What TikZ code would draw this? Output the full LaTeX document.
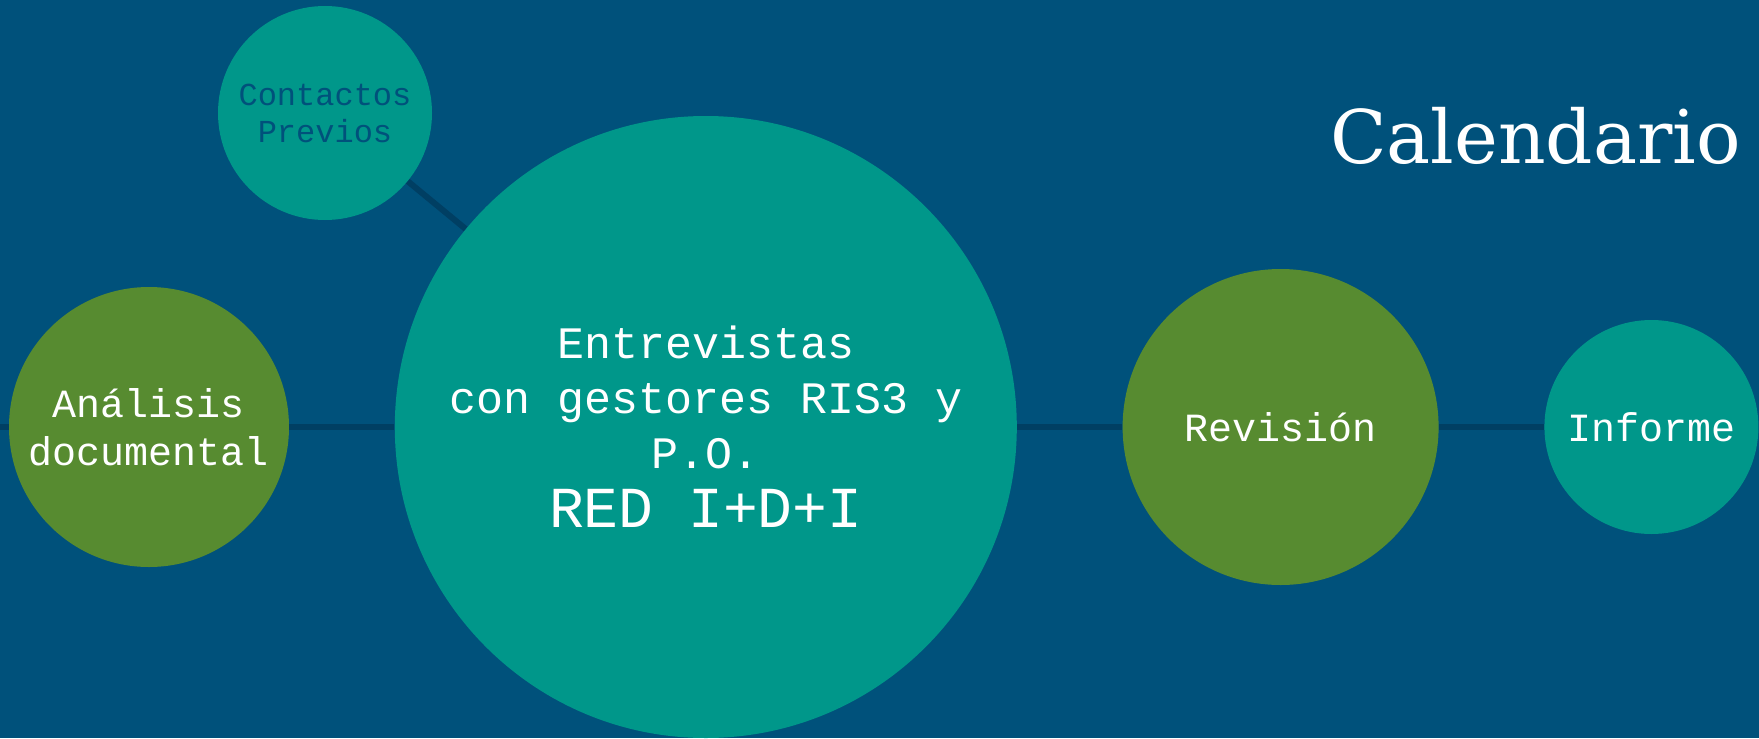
\documentclass[tikz,border=0pt]{standalone}
\usepackage{fontspec}
\usepackage{tikz}
\usetikzlibrary{positioning}
\newfontfamily\monofont{Liberation Mono}
\newfontfamily\slabfont{DejaVu Serif}
\definecolor{calblue}{HTML}{00517B}
\definecolor{calteal}{HTML}{00978A}
\definecolor{calgreen}{HTML}{578B30}
\definecolor{calline}{HTML}{003F63}

\tikzset{
  phase/.style={circle, inner sep=0pt, align=center, text=white,
    font=\monofont\fontsize{20}{24}\selectfont},
  tphase/.style={phase, fill=calteal},
  gphase/.style={phase, fill=calgreen},
  link/.style={draw=calline, line width=3pt},
}

\begin{document}
\begin{tikzpicture}[x=0.5pt, y=-0.5pt, node distance=52.5pt]
      \useasboundingbox (0,0) rectangle (1759,738);
      \fill[calblue] (0,0) rectangle (1759,738);
      % Define nodes
      \node[gphase, minimum size=140pt] (analisis) at (149,427) {Análisis\\documental};
      \node[tphase, minimum size=311pt, right=of analisis,
        font=\monofont\fontsize{22.5}{27.5}\selectfont] (entrevistas)
        {Entrevistas\\con gestores RIS3 y\\P.O.\\[2pt]{\fontsize{29}{33.5}\selectfont RED I+D+I}};
      \node[gphase, minimum size=158pt, right=of entrevistas] (revision) {Revisión};
      \node[tphase, minimum size=107pt, right=of revision] (informe) {Informe};
      \node[tphase, minimum size=107pt, text=calblue,
        font=\monofont\fontsize{16}{18.5}\selectfont] (contactos) at (325,113) {Contactos\\Previos};
      \node[anchor=base east, text=white, font=\slabfont\fontsize{37}{44}\selectfont]
        (titulo) at (1748,163) {Calendario};
      \coordinate (izq) at (0,427);
      \coordinate (der) at (1759,427);
      % Define edges
      \draw[link] (izq) -- (analisis) -- (entrevistas) -- (revision) -- (informe) -- (der);
      \draw[link] (contactos) -- (entrevistas);
\end{tikzpicture}
\end{document}
